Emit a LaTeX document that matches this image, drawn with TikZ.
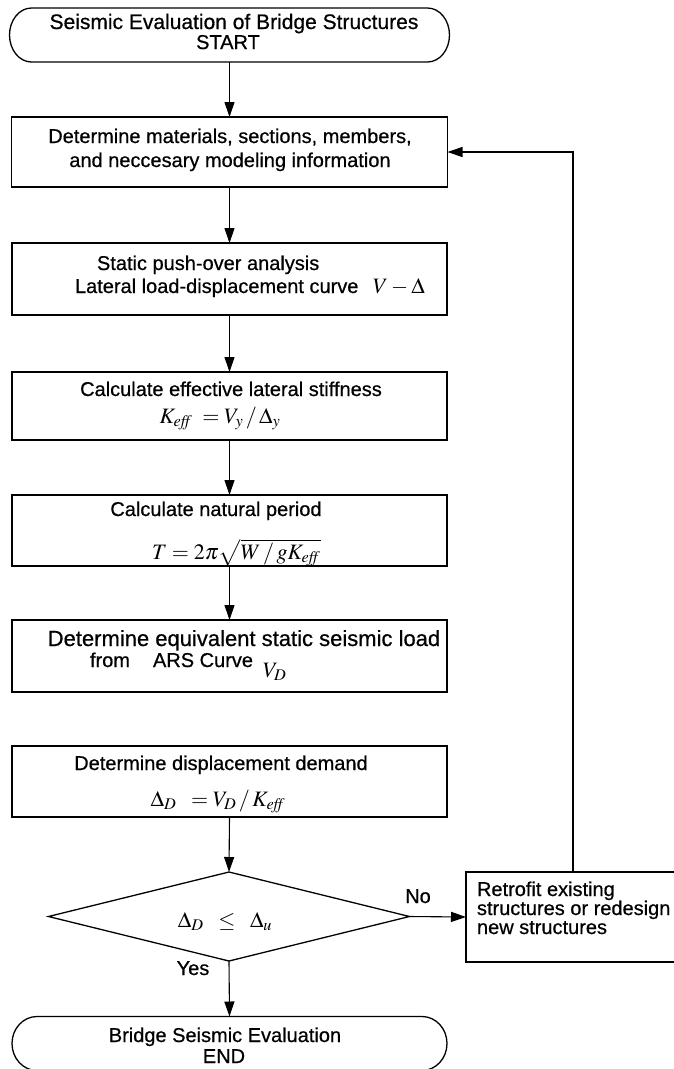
\documentclass[tikz,border=0pt]{standalone}
\usepackage{mathptmx}
\usepackage[no-math]{fontspec}
\setmainfont{Liberation Sans}[FakeBold=0.6]
\usetikzlibrary{arrows.meta,shapes.geometric}

\tikzset{
  boxst/.style={draw, line width=1.3pt, inner sep=0pt, outer sep=0pt},
  framest/.style={inner sep=0pt, outer sep=0pt},
  txt/.style={inner sep=0pt, outer sep=0pt, anchor=base, font=\fontsize{20}{22}\selectfont},
  txtl/.style={txt, anchor=base west},
  mth/.style={inner sep=0pt, outer sep=0pt, anchor=base, font=\fontsize{22}{24}\selectfont},
  mthl/.style={mth, anchor=base west},
  arr/.style={draw, line width=1.1pt, -{Triangle[length=15pt,width=10pt]}},
  term/.style={draw, line width=1.3pt},
}

\begin{document}
\begin{tikzpicture}[x=1pt,y=-1pt]
\useasboundingbox (0,0) rectangle (673,1069);

% start terminal
\node[framest, minimum width=440pt, minimum height=54pt] (st) at (229.5,35) {};
\draw[term] ([xshift=22pt]st.north west) -- ([xshift=-22pt]st.north east)
  arc[start angle=90, end angle=-90, x radius=22pt, y radius=27pt]
  -- ([xshift=22pt]st.south west)
  arc[start angle=270, end angle=90, x radius=22pt, y radius=27pt] -- cycle;
\node[txt, font=\fontsize{21}{23}\selectfont] (stt1) at (234,29) {Seismic Evaluation of Bridge Structures};
\node[txt] (stt2) at (228,49) {START};

% box 1
\node[boxst, minimum width=436pt, minimum height=70pt] (b1) at (229.5,152) {};
\node[txt] (b1t1) at (230,143) {Determine materials, sections, members,};
\node[txt] (b1t2) at (230,167) {and neccesary modeling information};

% box 2
\node[boxst, minimum width=435pt, minimum height=72pt] (b2) at (229.5,279) {};
\node[txtl] (b2t1) at (97,270) {Static push-over analysis};
\node[txtl] (b2t2) at (75,293) {Lateral load-displacement curve};
\node[mthl] (b2m) at (373,293) {$V-\Delta$};

% box 3
\node[boxst, minimum width=435pt, minimum height=68pt] (b3) at (229.5,406) {};
\node[txt] (b3t1) at (231,396) {Calculate effective lateral stiffness};
\node[mth] (b3m) at (220,423) {$K_{\mathit{eff}}\;=V_y\,/\,\Delta_y$};

% box 4
\node[boxst, minimum width=435pt, minimum height=71pt] (b4) at (229.5,530.5) {};
\node[txt] (b4t1) at (216,516) {Calculate natural period};
\node[mthl] (b4m) at (152,559) {$T=2\pi\sqrt{W\,/\,gK_{\mathit{eff}}}$};

% box 5
\node[boxst, minimum width=435pt, minimum height=72pt] (b5) at (229.5,656) {};
\node[txt, font=\fontsize{22}{24}\selectfont] (b5t1) at (244,646) {Determine equivalent static seismic load};
\node[txtl] (b5t2) at (90,667) {from};
\node[txtl] (b5t3) at (153,667) {ARS Curve};
\node[mthl] (b5m) at (263,677) {$V_D$};

% box 6
\node[boxst, minimum width=435pt, minimum height=71pt] (b6) at (229.5,781.5) {};
\node[txt] (b6t1) at (221,770) {Determine displacement demand};
\node[mth] (b6m) at (218,806) {$\Delta_D\;\;=V_D\,/\,K_{\mathit{eff}}$};

% decision
\node[draw, diamond, line width=1.3pt, inner sep=0pt, outer sep=0pt,
      minimum width=361pt, minimum height=89pt] (dc) at (229,916.5) {};
\node[mth] (dcm) at (225,927) {$\Delta_D\;\;\le\;\;\Delta_u$};

% retrofit box
\node[boxst, minimum width=214pt, minimum height=90pt] (rf) at (573,917) {};
\node[txtl] (rft1) at (477,896) {Retrofit existing};
\node[txtl] (rft2) at (477,915) {structures or redesign};
\node[txtl] (rft3) at (477,934) {new structures};

% end terminal
\node[framest, minimum width=435pt, minimum height=54pt] (en) at (229.5,1043.5) {};
\draw[term] ([xshift=25pt]en.north west) -- ([xshift=-25pt]en.north east)
  arc[start angle=90, end angle=-90, x radius=25pt, y radius=27pt]
  -- ([xshift=25pt]en.south west)
  arc[start angle=270, end angle=90, x radius=25pt, y radius=27pt] -- cycle;
\node[txt] (ent1) at (225,1042) {Bridge Seismic Evaluation};
\node[txt] (ent2) at (224,1063) {END};

% connectors
\draw[arr] (st.south) -- (b1.north);
\draw[arr] (b1.south) -- (b2.north);
\draw[arr] (b2.south) -- (b3.north);
\draw[arr] (b3.south) -- (b4.north);
\draw[arr] (b4.south) -- (b5.north);
\draw[arr] (b6.south) -- (dc.north);
\draw[arr] (dc.east) -- (rf.west);
\draw[arr] (dc.south) -- (en.north);
\draw[arr] (rf.north) |- (b1.east);

\node[txt] (no) at (418,903) {No};
\node[txt] (yes) at (193,975) {Yes};
\end{tikzpicture}
\end{document}
